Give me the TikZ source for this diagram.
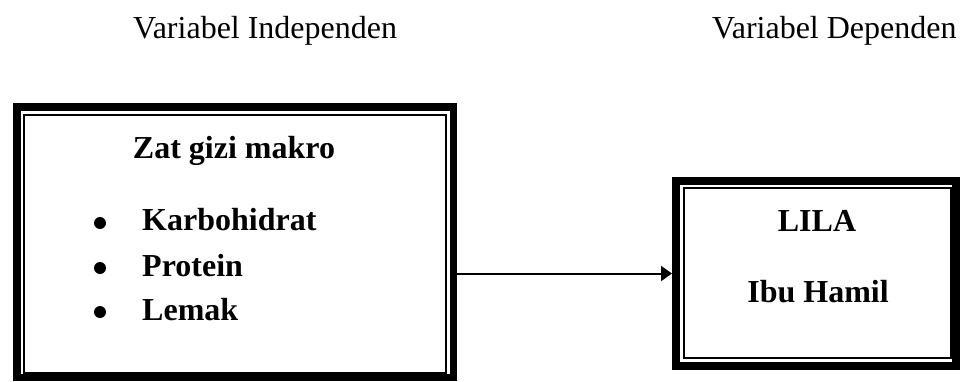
\documentclass[tikz,border=0pt]{standalone}
\usepackage{fontspec}
\setmainfont{Liberation Serif}
\usetikzlibrary{arrows.meta}
\begin{document}
\begin{tikzpicture}[x=1pt,y=-1pt,
  txt/.style={inner sep=0pt, font=\fontsize{32}{38}\selectfont},
  btxt/.style={txt, font=\fontsize{32}{38}\selectfont\bfseries},
  thickbox/.style={draw=black, line width=7.5pt, rectangle, inner sep=0pt},
  thinbox/.style={draw=black, line width=2pt, rectangle, inner sep=0pt},
  dot/.style={circle, fill=black, inner sep=0pt, minimum size=12pt},
  arr/.style={line width=2pt, -{Triangle[length=11pt,width=15pt]}}]
\useasboundingbox (0,0) rectangle (960,381);
% headers
\node[txt, anchor=base west] (hi) at (133,38) {Variabel Independen};
\node[txt, anchor=base west] (hd) at (712,38) {Variabel Dependen};
% left box
\node[thickbox, minimum width=436.5pt, minimum height=270.5pt] (L) at (235,242) {};
\node[thinbox, minimum width=421.25pt, minimum height=258.5pt] (Li) at (234.9,243.75) {};
\node[btxt, anchor=base] (zt) at (234,158) {Zat gizi makro};
\node[dot] (b1) at (100,223) {};
\node[dot] (b2) at (100,268) {};
\node[dot] (b3) at (100,312) {};
\node[btxt, anchor=base west] (k) at (142,230) {Karbohidrat};
\node[btxt, anchor=base west] (p) at (142,276) {Protein};
\node[btxt, anchor=base west] (l) at (142,320) {Lemak};
% right box
\node[thickbox, line width=8pt, minimum width=280pt, minimum height=185pt] (R) at (816,273.5) {};
\node[thinbox, minimum width=267pt, minimum height=170pt] (Ri) at (817.5,273) {};
\node[btxt, anchor=base] (lila) at (817,231) {LILA};
\node[btxt, anchor=base] (ibu) at (818,302) {Ibu Hamil};
% arrow
\draw[arr] (L.east |- R.west) -- (R.west);
\end{tikzpicture}
\end{document}
